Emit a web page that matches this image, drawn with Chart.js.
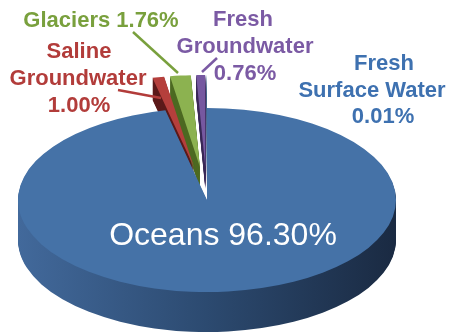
<!DOCTYPE html>
<html>
<head>
<meta charset="utf-8">
<script src="https://cdn.jsdelivr.net/npm/chart.js@4.4.1/dist/chart.umd.min.js"></script>
<style>
  html, body { margin: 0; padding: 0; background: #fff; }
  #wrap { width: 453px; height: 336px; position: relative; }
</style>
</head>
<body>
<div id="wrap"><canvas id="aguaChart" width="453" height="336"></canvas></div>
<script>
// Datos (orden de dibujo en sentido horario desde las 12)
const categorias = ['Oceans', 'Saline Groundwater', 'Glaciers', 'Fresh Groundwater', 'Fresh Surface Water'];
const porcentajes = [96.30, 1.00, 1.76, 0.76, 0.01];
const coloresCara = ['#4572a7', '#b53f3c', '#8cb250', '#7658a0', '#4572a7'];
const coloresLado = ['#2e4d75', '#5c1a1a', '#4d6a22', '#3b2a58', '#2e4d75'];
const separadas = [false, true, true, true, true];

// Elipse destino (vista 3D)
const elipse = { cx: 207, cy: 200, rx: 189, ry: 92, prof: 40, profSep: 22, explota: 0.36 };

// Etiquetas: texto, x, y (línea base)
const etiquetas = [
    { color: '#ffffff', font: '32px "Liberation Sans", Arial, sans-serif', lineas: [['Oceans 96.30%', 223, 245]] },
    { color: '#b23c3a', font: 'bold 22px "Liberation Sans", Arial, sans-serif', lineas: [['Saline', 79, 58], ['Groundwater', 78, 85], ['1.00%', 79, 112]] },
    { color: '#79a03d', font: 'bold 22px "Liberation Sans", Arial, sans-serif', lineas: [['Glaciers 1.76%', 101, 27]] },
    { color: '#7b5aa4', font: 'bold 22px "Liberation Sans", Arial, sans-serif', lineas: [['Fresh', 243, 26], ['Groundwater', 245, 53], ['0.76%', 245, 80]] },
    { color: '#3e71b0', font: 'bold 22px "Liberation Sans", Arial, sans-serif', lineas: [['Fresh', 384, 70], ['Surface Water', 372, 97], ['0.01%', 383, 123]] }
];

const guias = [
    { color: '#b23c3a', de: [118, 90], a: [161, 98] },
    { color: '#79a03d', de: [133, 32], a: [178, 73] },
    { color: '#7b5aa4', de: [217, 58], a: [202, 72] }
];

function transformar(ctx, arc) {
    const R = arc.outerRadius;
    ctx.translate(elipse.cx, elipse.cy);
    ctx.scale(elipse.rx / R, elipse.ry / R);
    ctx.translate(-arc.x, -arc.y);
}

function dibujarArco(ctx, arc, color, dy, base, separar) {
    ctx.save();
    ctx.translate(0, dy);
    transformar(ctx, base);
    if (separar) {
        const medio = (arc.startAngle + arc.endAngle) / 2;
        const e = elipse.explota * base.outerRadius;
        ctx.translate(Math.cos(medio) * e, Math.sin(medio) * e);
    }
    const prev = arc.options.backgroundColor;
    arc.options.backgroundColor = color;
    arc.draw(ctx);
    arc.options.backgroundColor = prev;
    ctx.restore();
}

const pie3D = {
    id: 'pie3D',
    beforeDatasetsDraw(chart) {
        const ctx = chart.ctx;
        const arcs = chart.getDatasetMeta(0).data;
        const base = arcs[0];
        const R = base.outerRadius;
        const grad = ctx.createLinearGradient(base.x - R, 0, base.x + R, 0);
        grad.addColorStop(0, '#42699b');
        grad.addColorStop(0.5, '#2c4a70');
        grad.addColorStop(1, '#1a2a42');

        // porciones separadas: lado y cara
        for (let i = 1; i < arcs.length; i++) {
            for (let d = elipse.profSep; d > 0; d--) dibujarArco(ctx, arcs[i], coloresLado[i], d, base, separadas[i]);
        }
        for (let i = 1; i < arcs.length; i++) dibujarArco(ctx, arcs[i], coloresCara[i], 0, base, separadas[i]);

        // océanos: lado y cara
        for (let d = elipse.prof; d > 0; d--) dibujarArco(ctx, arcs[0], grad, d, base, separadas[0]);
        dibujarArco(ctx, arcs[0], coloresCara[0], 0, base, separadas[0]);
        return false;
    },
    afterDraw(chart) {
        const ctx = chart.ctx;
        ctx.save();
        guias.forEach(g => {
            ctx.strokeStyle = g.color;
            ctx.lineWidth = 2.5;
            ctx.beginPath();
            ctx.moveTo(g.de[0], g.de[1]);
            ctx.lineTo(g.a[0], g.a[1]);
            ctx.stroke();
        });
        ctx.textAlign = 'center';
        ctx.textBaseline = 'alphabetic';
        etiquetas.forEach(e => {
            ctx.fillStyle = e.color;
            ctx.font = e.font;
            e.lineas.forEach(l => ctx.fillText(l[0], l[1], l[2]));
        });
        ctx.restore();
    }
};

new Chart(document.getElementById('aguaChart').getContext('2d'), {
    type: 'pie',
    data: {
        labels: categorias,
        datasets: [{
            data: porcentajes,
            backgroundColor: coloresCara,
            borderWidth: 0
        }]
    },
    options: {
        responsive: false,
        animation: false,
        plugins: {
            legend: { display: false },
            tooltip: { enabled: false }
        }
    },
    plugins: [pie3D]
});
</script>
</body>
</html>
